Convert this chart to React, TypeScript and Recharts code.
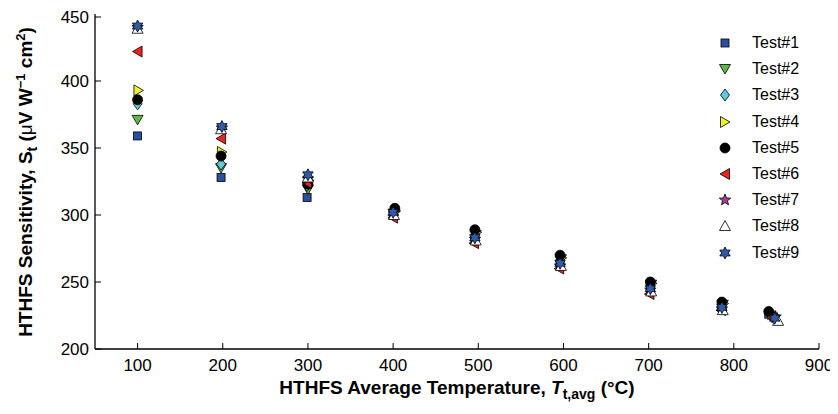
import React from "react";
import { ScatterChart, Scatter, XAxis, YAxis } from "recharts";

// HTHFS sensitivity vs average temperature, tests 1..9
const xTicks = [100, 200, 300, 400, 500, 600, 700, 800, 900];
const yTicks = [200, 250, 300, 350, 400, 450];

const test1T = [100, 198, 299, 400, 496, 596, 702, 786, 841];
const test1S = [359, 328, 313, 300, 283, 264, 245, 231, 226];
const test2T = [100, 198, 300, 401, 497, 597, 703, 787, 843];
const test2S = [371, 335, 319, 301, 285, 267, 248, 233, 225];
const test3T = [100, 198, 299, 401, 496, 596, 702, 786, 845];
const test3S = [383, 338, 322, 300, 283, 263, 244, 230, 224];
const test4T = [101, 199, 301, 403, 498, 598, 704, 788, 845];
const test4S = [393, 347, 326, 303, 287, 268, 249, 234, 226];
const test5T = [100, 198, 300, 402, 496, 596, 702, 786, 841];
const test5S = [386, 344, 323, 305, 289, 270, 250, 235, 228];
const test6T = [100, 198, 299, 400, 495, 595, 701, 785, 846];
const test6S = [422, 357, 324, 298, 279, 260, 241, 229, 223];
const test7T = [100, 199, 300, 401, 496, 596, 702, 786, 849];
const test7S = [440, 365, 327, 301, 282, 262, 244, 230, 224];
const test8T = [100, 198, 300, 401, 497, 597, 703, 787, 852];
const test8S = [439, 364, 328, 300, 281, 262, 243, 229, 221];
const test9T = [100, 199, 300, 400, 496, 596, 702, 786, 848];
const test9S = [441, 366, 330, 302, 283, 264, 245, 231, 223];

const series = [
  { name: "Test#1", t: test1T, s: test1S, kind: "square", color: "#2a4fa0" },
  { name: "Test#2", t: test2T, s: test2S, kind: "triDown", color: "#5fb946" },
  { name: "Test#3", t: test3T, s: test3S, kind: "diamond", color: "#5ecbdc" },
  { name: "Test#4", t: test4T, s: test4S, kind: "triRight", color: "#f2ee30" },
  { name: "Test#5", t: test5T, s: test5S, kind: "circle", color: "#000000" },
  { name: "Test#6", t: test6T, s: test6S, kind: "triLeft", color: "#ec2224" },
  { name: "Test#7", t: test7T, s: test7S, kind: "star5", color: "#9e3d98" },
  { name: "Test#8", t: test8T, s: test8S, kind: "triUp", color: "#ffffff" },
  { name: "Test#9", t: test9T, s: test9S, kind: "star6", color: "#2f5ba8" },
];

const FONT = "'Liberation Sans', Arial, sans-serif";

const starPoints = (cx: number, cy: number, n: number, ro: number, ri: number) => {
  const pts: string[] = [];
  for (let i = 0; i < n * 2; i++) {
    const r = i % 2 === 0 ? ro : ri;
    const a = -Math.PI / 2 + (i * Math.PI) / n;
    pts.push(`${cx + r * Math.cos(a)},${cy + r * Math.sin(a)}`);
  }
  return pts.join(" ");
};

const Marker = ({ kind, color, cx, cy }: any) => {
  const common = { fill: color, stroke: "#000", strokeWidth: 0.8 };
  switch (kind) {
    case "square":
      return <rect x={cx - 4} y={cy - 4} width={8} height={8} {...common} />;
    case "triDown":
      return <polygon points={`${cx - 5.5},${cy - 4.5} ${cx + 5.5},${cy - 4.5} ${cx},${cy + 5}`} {...common} />;
    case "diamond":
      return <polygon points={`${cx},${cy - 6} ${cx + 4.5},${cy} ${cx},${cy + 6} ${cx - 4.5},${cy}`} {...common} />;
    case "triRight":
      return <polygon points={`${cx - 4.5},${cy - 5.5} ${cx - 4.5},${cy + 5.5} ${cx + 5},${cy}`} {...common} />;
    case "triLeft":
      return <polygon points={`${cx + 4.5},${cy - 5.5} ${cx + 4.5},${cy + 5.5} ${cx - 5},${cy}`} {...common} />;
    case "triUp":
      return <polygon points={`${cx},${cy - 5.5} ${cx + 5.5},${cy + 4.5} ${cx - 5.5},${cy + 4.5}`} {...common} />;
    case "star5":
      return <polygon points={starPoints(cx, cy, 5, 6, 2.6)} {...common} />;
    case "star6":
      return <polygon points={starPoints(cx, cy, 6, 6, 3.3)} {...common} />;
    default:
      return <circle cx={cx} cy={cy} r={5} {...common} />;
  }
};

const BottomTick = ({ x, y, payload }: any) => (
  <g>
    <line x1={x} x2={x} y1={y} y2={y - 6} stroke="#000" />
    <text x={x} y={y + 22} textAnchor="middle" fontSize={17} fontFamily={FONT} fill="#000">
      {payload.value}
    </text>
  </g>
);

const LeftTick = ({ x, y, payload }: any) => (
  <g>
    <line x1={x} x2={x + 6} y1={y} y2={y} stroke="#000" />
    <text x={x - 6} y={y + 6} textAnchor="end" fontSize={17} fontFamily={FONT} fill="#000">
      {payload.value}
    </text>
  </g>
);

const TopTick = ({ x, y }: any) => <line x1={x} x2={x} y1={y} y2={y + 6} stroke="#000" />;
const RightTick = ({ x, y }: any) => <line x1={x} x2={x - 6} y1={y} y2={y} stroke="#000" />;

const XTitle = ({ viewBox }: any) => {
  const cx = viewBox.x + viewBox.width / 2;
  return (
    <text x={cx} y={viewBox.y + 45} textAnchor="middle" fontSize={19} fontWeight="bold" fontFamily={FONT} fill="#000">
      HTHFS Average Temperature,
      <tspan fontStyle="italic"> T</tspan>
      <tspan dy={5} fontSize={14}>t,avg</tspan>
      <tspan dy={-5}> (°C)</tspan>
    </text>
  );
};

const YTitle = () => {
  const x = 24;
  const y = 174;
  return (
    <text x={x} y={y} transform={`rotate(-90 ${x} ${y})`} textAnchor="middle" fontSize={19} fontWeight="bold" fontFamily={FONT} fill="#000">
      HTHFS Sensitivity, S
      <tspan dy={5} fontSize={14}>t</tspan>
      <tspan dy={-5}> (</tspan>
      <tspan fontWeight="normal">μ</tspan>
      <tspan>V W</tspan>
      <tspan dy={-7} fontSize={13}>−1</tspan>
      <tspan dy={7}> cm</tspan>
      <tspan dy={-7} fontSize={13}>2</tspan>
      <tspan dy={7}>)</tspan>
    </text>
  );
};

export default function App() {
  const axisLine = { stroke: "#000", strokeWidth: 1.3 };
  return (
    <div style={{ position: "relative", width: 830, height: 398 }}>
      <ScatterChart width={830} height={398} margin={{ top: 6, right: 19, bottom: 0, left: 0 }}>
        <XAxis
          type="number"
          dataKey="x"
          domain={[50, 900]}
          ticks={xTicks}
          allowDataOverflow
          height={57}
          tickSize={0}
          tickMargin={0}
          tickLine={false}
          axisLine={axisLine}
          tick={<BottomTick />}
          label={<XTitle />}
        />
        <YAxis
          type="number"
          dataKey="y"
          domain={[200, 450]}
          ticks={yTicks}
          allowDataOverflow
          width={87}
          tickSize={0}
          tickMargin={0}
          tickLine={false}
          axisLine={axisLine}
          tick={<LeftTick />}
          label={<YTitle />}
        />
        <XAxis
          xAxisId="top"
          orientation="top"
          type="number"
          domain={[50, 900]}
          ticks={xTicks}
          allowDataOverflow
          height={0}
          tickSize={0}
          tickMargin={0}
          tickLine={false}
          axisLine={axisLine}
          tick={<TopTick />}
        />
        <YAxis
          yAxisId="right"
          orientation="right"
          type="number"
          domain={[200, 450]}
          ticks={yTicks}
          allowDataOverflow
          width={0}
          tickSize={0}
          tickMargin={0}
          tickLine={false}
          axisLine={axisLine}
          tick={<RightTick />}
        />
        {series.map((sr) => (
          <Scatter
            key={sr.name}
            name={sr.name}
            data={sr.t.map((t, i) => ({ x: t, y: sr.s[i] }))}
            isAnimationActive={false}
            shape={(p: any) => <Marker kind={sr.kind} color={sr.color} cx={p.cx} cy={p.cy} />}
          />
        ))}
      </ScatterChart>
      <div style={{ position: "absolute", left: 709, top: 22, fontFamily: FONT, fontSize: 16 }}>
        {series.map((sr) => (
          <div key={sr.name} style={{ display: "flex", alignItems: "center", height: 26.2 }}>
            <svg width={16} height={16} style={{ marginRight: 19 }}>
              <Marker kind={sr.kind} color={sr.color} cx={8} cy={8} />
            </svg>
            <span>{sr.name}</span>
          </div>
        ))}
      </div>
    </div>
  );
}
